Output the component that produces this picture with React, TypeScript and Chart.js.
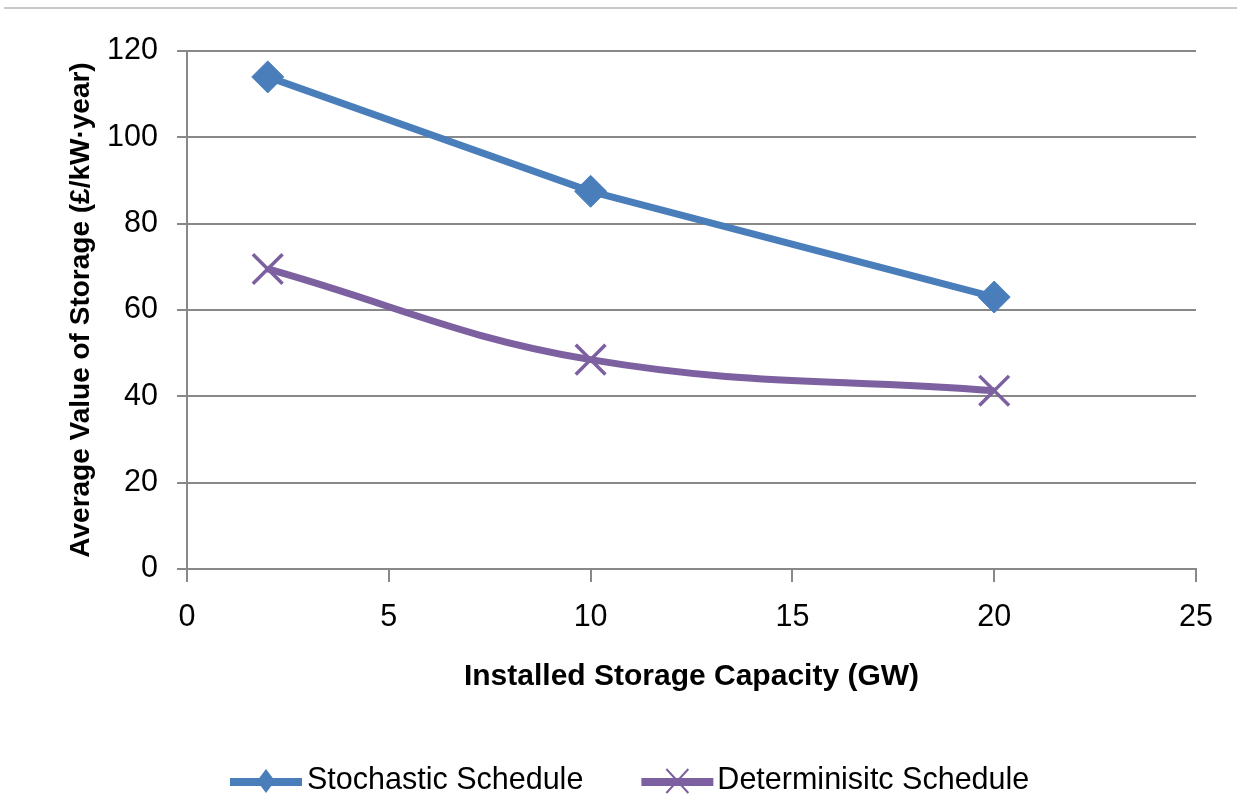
import React, { useEffect, useRef } from "react";
import { Chart, registerables } from "chart.js";

Chart.register(...registerables);

// ---- Data ----
const capacityGW = [2, 10, 20];
const stochasticValues = [114, 87.5, 63];
const deterministicValues = [69.5, 48.5, 41.3];
const seriesNames = ["Stochastic Schedule", "Determinisitc Schedule"];
const xAxisTitle = "Installed Storage Capacity (GW)";
const yAxisTitle = "Average Value of Storage (£/kW·year)";
const xRange = [0, 25];
const xStep = 5;
const yRange = [0, 120];
const yStep = 20;

// ---- Styles ----
const BLUE = "#4A7EBB";
const PURPLE = "#7D60A0";
const GRID = "#888888";
const FONT = "'Liberation Sans', Arial, sans-serif";
const W = 1237;
const H = 797;

const decorPlugin = {
  id: "decor",
  beforeDraw(chart: any) {
    const ctx = chart.ctx;
    ctx.save();
    ctx.strokeStyle = "#c8c8c8";
    ctx.lineWidth = 2;
    ctx.beginPath();
    ctx.moveTo(4, 8);
    ctx.lineTo(W, 8);
    ctx.stroke();
    ctx.restore();
  },
  afterDraw(chart: any) {
    const ctx = chart.ctx;
    ctx.save();
    const cy = 781;
    ctx.font = `30.5px ${FONT}`;
    ctx.textBaseline = "middle";
    ctx.textAlign = "left";
    ctx.fillStyle = "#000";

    // item 1: line + diamond
    let x = 230;
    ctx.strokeStyle = BLUE;
    ctx.lineWidth = 8;
    ctx.beginPath();
    ctx.moveTo(x, cy + 1);
    ctx.lineTo(x + 72, cy + 1);
    ctx.stroke();
    const mx1 = x + 36;
    ctx.fillStyle = BLUE;
    ctx.beginPath();
    ctx.moveTo(mx1, cy - 12);
    ctx.lineTo(mx1 + 9, cy);
    ctx.lineTo(mx1, cy + 12);
    ctx.lineTo(mx1 - 9, cy);
    ctx.closePath();
    ctx.fill();
    ctx.fillStyle = "#000";
    const t1x = x + 77;
    ctx.fillText(seriesNames[0], t1x, cy);
    const w1 = ctx.measureText(seriesNames[0]).width;

    // item 2: line + cross
    x = t1x + w1 + 58;
    ctx.strokeStyle = PURPLE;
    ctx.lineWidth = 8;
    ctx.beginPath();
    ctx.moveTo(x, cy + 1);
    ctx.lineTo(x + 72, cy + 1);
    ctx.stroke();
    const mx2 = x + 36;
    ctx.lineWidth = 2;
    ctx.beginPath();
    ctx.moveTo(mx2 - 11, cy - 12);
    ctx.lineTo(mx2 + 11, cy + 12);
    ctx.moveTo(mx2 + 11, cy - 12);
    ctx.lineTo(mx2 - 11, cy + 12);
    ctx.stroke();
    ctx.fillText(seriesNames[1], x + 76, cy);
    ctx.restore();
  },
};

export default function App() {
  const canvasRef = useRef<HTMLCanvasElement | null>(null);

  useEffect(() => {
    if (!canvasRef.current) return;
    const chart = new Chart(canvasRef.current, {
      type: "line",
      data: {
        datasets: [
          {
            label: seriesNames[0],
            data: capacityGW.map((x, i) => ({ x, y: stochasticValues[i] })),
            borderColor: BLUE,
            backgroundColor: BLUE,
            borderWidth: 7,
            tension: 0,
            pointStyle: "rectRot",
            pointRadius: 16,
            pointBackgroundColor: BLUE,
            pointBorderColor: BLUE,
            pointBorderWidth: 1,
          },
          {
            label: seriesNames[1],
            data: capacityGW.map((x, i) => ({ x, y: deterministicValues[i] })),
            borderColor: PURPLE,
            backgroundColor: PURPLE,
            borderWidth: 7,
            tension: 0.4,
            pointStyle: "crossRot",
            pointRadius: 21,
            pointBorderColor: PURPLE,
            pointBorderWidth: 3.5,
          },
        ],
      },
      options: {
        responsive: false,
        animation: false,
        devicePixelRatio: 1,
        layout: { padding: { top: 51, left: 0, right: 41, bottom: 102 } },
        plugins: {
          legend: { display: false },
          tooltip: { enabled: false },
        },
        scales: {
          x: {
            type: "linear",
            min: xRange[0],
            max: xRange[1],
            ticks: {
              stepSize: xStep,
              padding: 17,
              color: "#000",
              font: { family: FONT, size: 30.5 },
            },
            grid: {
              drawOnChartArea: false,
              drawTicks: true,
              tickLength: 13,
              color: GRID,
              lineWidth: 2,
            },
            border: { color: GRID, width: 2 },
            title: {
              display: true,
              text: xAxisTitle,
              color: "#000",
              font: { family: FONT, size: 30, weight: "bold" },
              padding: { top: 0, bottom: 0 },
            },
            afterFit: (s: any) => {
              s.height = 126;
            },
          },
          y: {
            min: yRange[0],
            max: yRange[1],
            ticks: {
              stepSize: yStep,
              padding: 19,
              color: "#000",
              font: { family: FONT, size: 30.5 },
            },
            grid: {
              color: GRID,
              lineWidth: 2,
              tickLength: 10,
            },
            border: { color: GRID, width: 2 },
            title: {
              display: true,
              text: yAxisTitle,
              color: "#000",
              font: { family: FONT, size: 28, weight: "bold" },
              padding: { top: 64, bottom: 0 },
            },
            afterFit: (s: any) => {
              s.width = 187;
            },
          },
        },
      },
      plugins: [decorPlugin],
    } as any);
    return () => chart.destroy();
  }, []);

  return (
    <div style={{ position: "absolute", left: 0, top: 0, width: W, height: H, background: "#fff" }}>
      <canvas ref={canvasRef} width={W} height={H} />
    </div>
  );
}
